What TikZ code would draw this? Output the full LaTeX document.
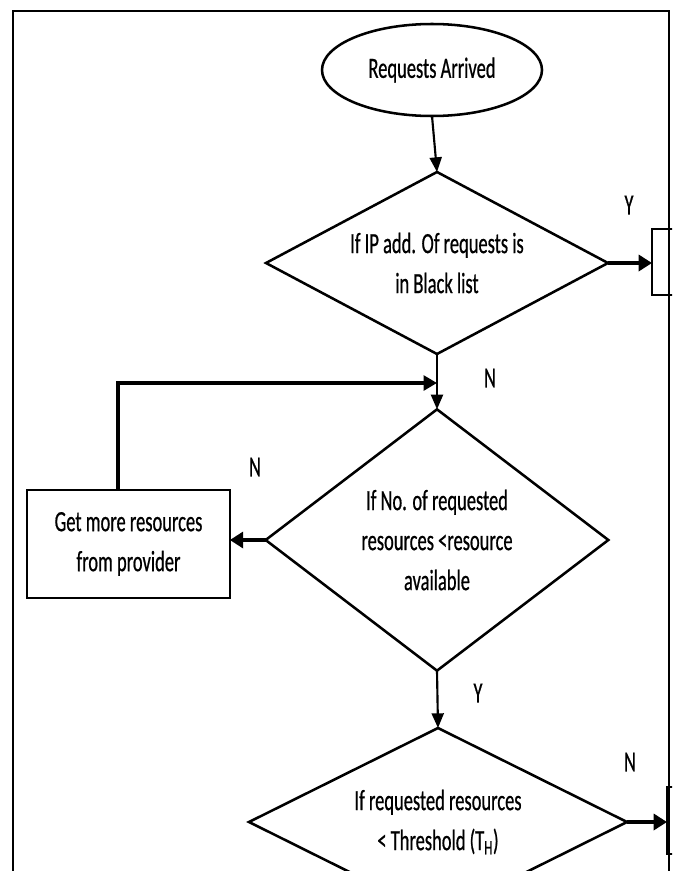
\documentclass[tikz,border=0pt]{standalone}
\usepackage{fontspec}
\setmainfont{Carlito}[FakeStretch=0.63,FakeBold=0.6]
\usetikzlibrary{shapes.geometric,arrows.meta}
\begin{document}
\begin{tikzpicture}[x=0.75pt,y=-0.75pt,
  shape line/.style={draw=black,line width=1.9pt,inner sep=0pt,outer sep=0pt},
  ell/.style={shape line,ellipse},
  dia/.style={shape line,diamond},
  boxnode/.style={shape line,rectangle},
  txt/.style={font=\fontsize{22}{30}\selectfont,align=center,inner sep=0pt},
  lbl/.style={font=\fontsize{22}{24}\selectfont,inner sep=0pt},
  arr/.style={line width=1.6pt,-{Triangle[length=11pt,width=9pt]}},
  thickarr/.style={line width=2.8pt,-{Triangle[length=10pt,width=12pt]}},
  frameline/.style={line width=2pt}]
\useasboundingbox (0,0) rectangle (676,871);
\clip (0,0) rectangle (672,871);
\fill[white] (0,0) rectangle (676,871);
% outer frame
\draw[frameline] (13,880) |- (669,11) -- (669,880);
% shapes
\node[ell,minimum width=165pt,minimum height=69pt] (start) at (432,70) {};
\node[txt] (startt) at (start.center) {Requests Arrived};
\node[dia,minimum width=256.5pt,minimum height=136.5pt] (d1) at (437,263) {};
\node[txt] (d1t) at (d1.center) {If IP add. Of requests is\\in Black list};
\node[boxnode,minimum width=45pt,minimum height=49.5pt] (rb1) at (682,262) {};
\node[dia,minimum width=257pt,minimum height=196pt] (d2) at (437,540) {};
\node[txt] (d2t) at (d2.center) {If No. of requested\\resources <resource\\available};
\node[boxnode,minimum width=152pt,minimum height=81pt] (lb) at (128.5,544) {};
\node[txt] (lbt) at (lb.center) {Get more resources\\from provider};
\node[dia,minimum width=283.5pt,minimum height=141pt] (d3) at (438,822) {};
\node[txt] (d3t) at (d3.center) {If requested resources\\< Threshold (T\textsubscript{H})};
\node[boxnode,minimum width=45pt,minimum height=50pt] (rb3) at (697,820.5) {};
% connectors
\coordinate (lp) at (118,383);
\draw[arr] (start.south) -- (d1.north);
\draw[thickarr] (d1.east) -- (d1.east -| rb1.west);
\draw[arr] (d1.south) -- (d2.north);
\draw[line width=2.6pt,-{Triangle[length=10pt,width=11pt]}] (lb.north -| lp) -- (lp) -- (d1.south |- lp);
\draw[thickarr] (d2.west) -- (d2.west -| lb.east);
\draw[arr] (d2.south) -- (d3.north);
\draw[thickarr] (d3.east) -- (d3.east -| rb3.west);
% labels
\node[lbl] (y1) at (629,205) {Y};
\node[lbl] (n1) at (490,378) {N};
\node[lbl] (n2) at (255,467) {N};
\node[lbl] (y2) at (478,693) {Y};
\node[lbl] (n3) at (630,762) {N};
\end{tikzpicture}
\end{document}
